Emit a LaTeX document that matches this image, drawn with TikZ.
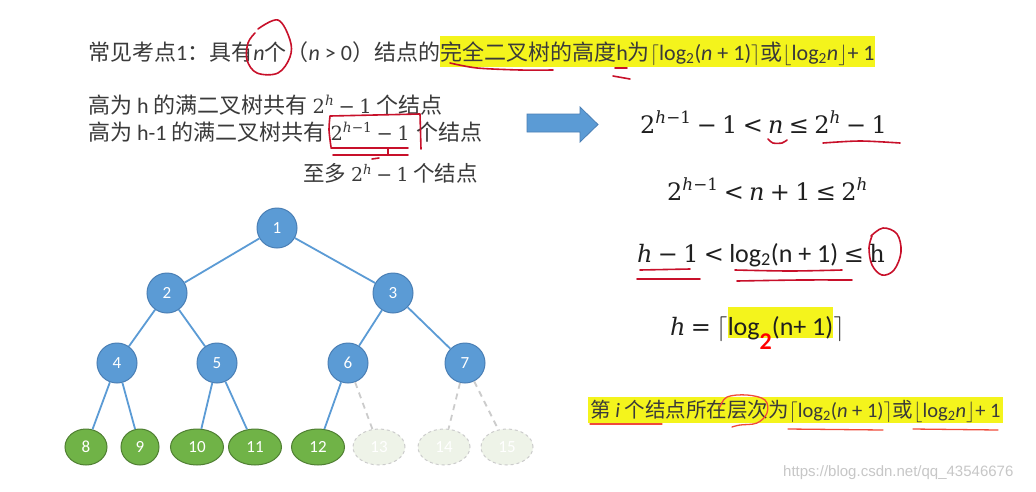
\documentclass[tikz,border=0pt]{standalone}
\usepackage{fontspec}
\setmainfont{Carlito}
\newfontfamily\cjk{Noto Sans CJK SC}
\newfontfamily\wmfont{Liberation Sans}
\newfontfamily\eqf{DejaVu Serif}
\newcommand{\gp}{\hspace{0.22em}}
\usetikzlibrary{shapes.geometric}
\definecolor{nodeblue}{HTML}{5B9BD5}
\definecolor{nodeblueb}{HTML}{4A7FB5}
\definecolor{nodegreen}{HTML}{70B347}
\definecolor{nodegreenb}{HTML}{4F7F32}
\definecolor{ghostfill}{HTML}{EEF3E8}
\definecolor{ghostline}{HTML}{CCCCCC}
\definecolor{hl}{HTML}{F4F41C}
\definecolor{txt}{HTML}{3A3A3A}
\definecolor{pen}{HTML}{C8102A}
\definecolor{pentwo}{HTML}{F04A3A}
\begin{document}
\begin{tikzpicture}[x=1pt,y=-1pt,
  tnode/.style={circle, draw=nodeblueb, fill=nodeblue, line width=1pt, minimum size=40pt, inner sep=0pt, text=white, font=\fontsize{17}{17}\selectfont},
  leaf/.style={ellipse, draw=nodegreenb, fill=nodegreen, line width=1pt, minimum height=36pt, inner sep=0pt, text=white, font=\fontsize{17}{17}\selectfont},
  ghost/.style={ellipse, draw=ghostline, dashed, fill=ghostfill, line width=1pt, minimum width=52pt, minimum height=36pt, inner sep=0pt, text=white, font=\fontsize{17}{17}\selectfont},
  tedge/.style={draw=nodeblue, line width=1.8pt},
  gedge/.style={draw=ghostline, line width=1.8pt, dash pattern=on 6pt off 5pt},
  pen/.style={draw=pen, line width=1.6pt, line cap=round, line join=round},
  pentwo/.style={draw=pentwo, line width=1.3pt, line cap=round, line join=round},
  txtnode/.style={anchor=base west, inner sep=0pt, text=txt},
  eq/.style={anchor=base west, inner sep=0pt, text=black!88, font=\fontsize{24}{30}\selectfont}]
\useasboundingbox (0,0) rectangle (1036,491);
\fill[white] (0,0) rectangle (1036,491);

% line 1
\node[txtnode, font=\fontsize{22}{26}\selectfont] (l1a) at (88,60)
  {{\cjk 常见考点}1{\cjk ：具有}\textit{n}{\cjk 个（}\textit{n} > 0{\cjk ）结点的}};
\node[anchor=base west, inner xsep=0pt, inner ysep=0pt, fill=hl, text=txt, text height=24pt, text depth=7pt, font=\fontsize{22}{26}\selectfont] (l1b) at (l1a.base east)
  {{\cjk 完全二叉树的高度}h{\cjk 为}$\lceil$log\textsubscript{2}(\textit{n} + 1)$\rceil${\cjk 或}$\lfloor$log\textsubscript{2}\textit{n}$\rfloor$+ 1\hspace{8pt}};

% lines 2-4
\node[txtnode, font=\fontsize{22}{26}\selectfont] (l2) at (88,113)
  {{\cjk 高为} h {\cjk 的满二叉树共有} {\eqf\fontsize{19.5}{23}\selectfont 2\textsuperscript{\textit{h}}\gp−\gp1} {\cjk 个结点}};
\node[txtnode, font=\fontsize{22}{26}\selectfont] (l3) at (88,140)
  {{\cjk 高为} h-1 {\cjk 的满二叉树共有} {\eqf\fontsize{19.5}{23}\selectfont 2\textsuperscript{\textit{h}−1}\gp−\gp1}\hspace{0.3em}{\cjk 个结点}};
\node[txtnode, font=\fontsize{21.5}{25}\selectfont] (l4) at (303,181)
  {{\cjk 至多} {\eqf\fontsize{19}{23}\selectfont 2\textsuperscript{\textit{h}}\gp−\gp1} {\cjk 个结点}};

% arrow
\draw[fill=nodeblue, draw=nodeblueb, line width=0.8pt]
  (527,114) -- (580,114) -- (580,107) -- (598,124.5) -- (580,142) -- (580,132) -- (527,132) -- cycle;

% right equations
\node[eq] (e1) at (640,133) {\eqf 2\textsuperscript{\textit{h}−1}\gp−\gp1\gp<\gp\textit{n}\gp≤\gp2\textsuperscript{\textit{h}}\gp−\gp1};
\node[eq] (e2) at (667,200) {\eqf 2\textsuperscript{\textit{h}−1}\gp<\gp\textit{n}\gp+\gp1\gp≤\gp2\textsuperscript{\textit{h}}};
\node[eq] (e3) at (637,262) {{\eqf\textit{h}\gp−\gp1\gp<}\gp\fontsize{26}{30}\selectfont log\textsubscript{2}(n + 1)\gp{\eqf\fontsize{24}{30}\selectfont ≤\gp h}};
\node[eq] (e4a) at (670,335) {{\eqf\textit{h}\gp=\gp}\fontsize{26}{30}\selectfont$\lceil$};
\node[eq, fill=hl, text height=28pt, text depth=3pt, font=\fontsize{26}{30}\selectfont] (e4b) at (e4a.base east)
  {log\raisebox{-14pt}{\fontsize{24}{24}\selectfont\bfseries\color{red}2}(n+ 1)};
\node[eq, font=\fontsize{26}{30}\selectfont] (e4c) at (e4b.base east) {$\rceil$};

% bottom line
\node[anchor=base west, inner xsep=2pt, inner ysep=0pt, fill=hl, text=txt, text height=20pt, text depth=6pt, font=\fontsize{20.5}{24}\selectfont] (b1) at (588,417)
  {{\cjk 第} \textit{i} {\cjk 个结点所在层次为}$\lceil$log\textsubscript{2}(\textit{n} + 1)$\rceil${\cjk 或}$\lfloor$log\textsubscript{2}\textit{n}$\rfloor$+ 1};

% watermark
\node[anchor=base west, inner sep=0pt, text=black!22, font=\wmfont\fontsize{15}{15}\selectfont] (wm) at (783,476) {https://blog.csdn.net/qq\_43546676};

% tree
\node[tnode] (n1) at (277,228) {1};
\node[tnode] (n2) at (167,293) {2};
\node[tnode] (n3) at (393,293) {3};
\node[tnode] (n4) at (117,363) {4};
\node[tnode] (n5) at (217,363) {5};
\node[tnode] (n6) at (348,363) {6};
\node[tnode] (n7) at (465,363) {7};
\node[leaf, minimum width=42pt] (n8) at (86,447) {8};
\node[leaf, minimum width=38pt] (n9) at (140,447) {9};
\node[leaf, minimum width=53pt] (n10) at (197,447) {10};
\node[leaf, minimum width=53pt] (n11) at (255,447) {11};
\node[leaf, minimum width=53pt] (n12) at (318,447) {12};
\node[ghost] (n13) at (379,447) {13};
\node[ghost] (n14) at (444,447) {14};
\node[ghost] (n15) at (507,447) {15};
\draw[tedge] (n1) -- (n2);
\draw[tedge] (n1) -- (n3);
\draw[tedge] (n2) -- (n4);
\draw[tedge] (n2) -- (n5);
\draw[tedge] (n3) -- (n6);
\draw[tedge] (n3) -- (n7);
\draw[tedge] (n4) -- (n8);
\draw[tedge] (n4) -- (n9);
\draw[tedge] (n5) -- (n10);
\draw[tedge] (n5) -- (n11);
\draw[tedge] (n6) -- (n12);
\draw[gedge] (n6) -- (n13);
\draw[gedge] (n7) -- (n14);
\draw[gedge] (n7) -- (n15);

% red pen marks
\draw[pen] plot[smooth, tension=0.6] coordinates {(258,29) (278,20) (290,40) (290,57) (278,73) (257,73) (247,60) (248,43) (255,33)};
\draw[pen] plot[smooth] coordinates {(450,63) (477,68) (520,70) (553,70)};
\draw[pen] (615,68) -- (627,68);
\draw[pen] (613,76) -- (630,79);
\draw[pen] plot[smooth] coordinates {(331,147) (329,130) (330,116)} -- (420,114) -- (421,149);
\draw[pen] (331,148) -- (408,148);
\draw[pen] (333,155) -- (408,155);
\draw[pen] (388,148) -- (388,155);
\draw[pen] (372,159) -- (379,158);
\draw[pen] plot[smooth] coordinates {(768,139) (773,143) (782,143) (787,140)};
\draw[pen] plot[smooth] coordinates {(823,143) (860,141) (900,143)};
\draw[pen] (640,270) -- (690,269);
\draw[pen] (637,279) -- (700,279);
\draw[pen] plot[smooth] coordinates {(735,270) (790,271) (842,270)};
\draw[pen] plot[smooth] coordinates {(737,281) (800,280) (852,280)};
\draw[pen] plot[smooth, tension=0.6] coordinates {(871,236) (883,228) (897,234) (901,252) (894,270) (882,275) (872,265) (869,248) (872,236)};
\draw[pentwo] (590,424) -- (662,424);
\draw[pentwo] (788,429) -- (883,430);
\draw[pentwo] (913,429) -- (998,430);
\draw[pentwo] plot[smooth, tension=0.6] coordinates {(720,407) (727,397) (747,395) (765,400) (767,413) (757,423) (740,425) (732,427)};
\end{tikzpicture}
\end{document}
